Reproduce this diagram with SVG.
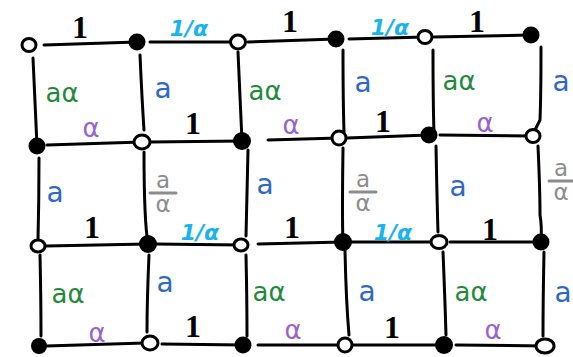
<svg xmlns="http://www.w3.org/2000/svg" width="573" height="357" viewBox="0 0 573 357">
<style>
.e{fill:none;stroke:#000;stroke-width:3;stroke-linecap:round;stroke-linejoin:round}
.f{fill:#000}
.o{fill:#fff;stroke:#000;stroke-width:3}
text{font-family:"DejaVu Sans","Liberation Sans",sans-serif;text-anchor:middle}
.one{font-family:"Liberation Serif",serif;font-weight:bold;font-size:32px;fill:#000}
.inv{font-size:22px;font-style:italic;font-weight:bold;fill:#19b4ef}
.bl{font-size:28px;fill:#2f68c8}
.gr{font-size:26px;fill:#1f8a3c}
.pu{font-size:26px;fill:#9a62cc}
.gy{font-size:23px;fill:#8c8c8c}
.bar{stroke:#8c8c8c;stroke-width:3;stroke-linecap:round}
</style>
<rect width="573" height="357" fill="#fff"/>
<g id="connectors">
<path class="e" d="M44,45 L137,42"/>
<path class="e" d="M150,42 L238,42"/>
<path class="e" d="M248,42 L336,39"/>
<path class="e" d="M349,39 L425,37"/>
<path class="e" d="M434,37 L531,35"/>
<path class="e" d="M47,145 L142,142"/>
<path class="e" d="M150,142 L242,141"/>
<path class="e" d="M268,140 L339,138"/>
<path class="e" d="M347,138 L429,135"/>
<path class="e" d="M440,135 L533,136"/>
<path class="e" d="M46,246 L148,244"/>
<path class="e" d="M155,244 L241,245"/>
<path class="e" d="M258,244 L343,242"/>
<path class="e" d="M350,242 L439,242"/>
<path class="e" d="M450,242 L541,242"/>
<path class="e" d="M46,346 L145,343"/>
<path class="e" d="M162,344 L243,345"/>
<path class="e" d="M258,345 L345,345"/>
<path class="e" d="M352,345 L444,345"/>
<path class="e" d="M456,345 L545,346"/>
<path class="e" d="M33,58 Q35,100 37,146"/>
<path class="e" d="M140,55 Q142,100 144,130"/>
<path class="e" d="M238,52 Q240,100 242,141"/>
<path class="e" d="M343,50 Q343,100 344,132"/>
<path class="e" d="M433,50 Q433,100 434,134"/>
<path class="e" d="M541,47 Q541,95 540,120 Q537,126 535,130"/>
<path class="e" d="M39,158 Q39,200 38,240"/>
<path class="e" d="M144,152 Q144,220 148,244"/>
<path class="e" d="M248,150 Q247,200 246,236"/>
<path class="e" d="M343,148 Q342,220 343,242"/>
<path class="e" d="M436,146 Q437,200 438,232"/>
<path class="e" d="M538,146 Q540,190 540,215 Q542,226 541,242"/>
<path class="e" d="M40,255 Q41,300 41,336"/>
<path class="e" d="M149,255 Q147,300 147,332"/>
<path class="e" d="M246,255 Q247,300 247,336"/>
<path class="e" d="M345,250 Q346,300 349,335"/>
<path class="e" d="M443,252 Q445,300 446,335"/>
<path class="e" d="M544,252 Q543,300 543,336"/>
</g>
<g id="labels">
<text class="one" x="80" y="38">1</text>
<text class="inv" x="189" y="36">1/α</text>
<text class="one" x="290" y="32">1</text>
<text class="inv" x="390" y="35">1/α</text>
<text class="one" x="477" y="32">1</text>
<text class="pu" x="91" y="137">α</text>
<text class="one" x="193" y="134">1</text>
<text class="pu" x="291" y="134">α</text>
<text class="one" x="383" y="132">1</text>
<text class="pu" x="485" y="132">α</text>
<text class="one" x="92" y="238">1</text>
<text class="inv" x="200" y="240">1/α</text>
<text class="one" x="292" y="238">1</text>
<text class="inv" x="393" y="240">1/α</text>
<text class="one" x="490" y="240">1</text>
<text class="pu" x="97" y="342">α</text>
<text class="one" x="193" y="337">1</text>
<text class="pu" x="293" y="339">α</text>
<text class="one" x="392" y="338">1</text>
<text class="pu" x="493" y="339">α</text>
<text class="gr" x="62" y="102">aα</text>
<text class="bl" x="163" y="98">a</text>
<text class="gr" x="265" y="100">aα</text>
<text class="bl" x="363" y="92">a</text>
<text class="gr" x="459" y="90">aα</text>
<text class="bl" x="561" y="91">a</text>
<text class="bl" x="55" y="202">a</text>
<text class="gy" x="163" y="188">a</text>
<line class="bar" x1="150" y1="193" x2="176" y2="193"/>
<text class="gy" x="163" y="212">α</text>
<text class="bl" x="265" y="194">a</text>
<text class="gy" x="363" y="187">a</text>
<line class="bar" x1="350" y1="192" x2="376" y2="192"/>
<text class="gy" x="363" y="211">α</text>
<text class="bl" x="458" y="196">a</text>
<text class="gy" x="561" y="176">a</text>
<line class="bar" x1="549" y1="181" x2="573" y2="181"/>
<text class="gy" x="561" y="200">α</text>
<text class="gr" x="68" y="303">aα</text>
<text class="bl" x="165" y="292">a</text>
<text class="gr" x="269" y="301">aα</text>
<text class="bl" x="367" y="301">a</text>
<text class="gr" x="471" y="301">aα</text>
<text class="bl" x="563" y="302">a</text>
</g>
<g id="n11"><ellipse class="o" cx="29" cy="45" rx="7" ry="6.5"/></g>
<g id="n12"><circle class="f" cx="137" cy="42" r="8.5"/></g>
<g id="n13"><ellipse class="o" cx="238" cy="42" rx="7.5" ry="7"/></g>
<g id="n14"><circle class="f" cx="336" cy="39" r="8.5"/></g>
<g id="n15"><ellipse class="o" cx="425" cy="37" rx="7" ry="6.5"/></g>
<g id="n16"><circle class="f" cx="531" cy="35" r="8.5"/></g>
<g id="n21"><circle class="f" cx="37" cy="146" r="8.5"/></g>
<g id="n22"><ellipse class="o" cx="142" cy="142" rx="8" ry="7"/></g>
<g id="n23"><circle class="f" cx="242" cy="141" r="9"/></g>
<g id="n24"><ellipse class="o" cx="339" cy="138" rx="7" ry="7"/></g>
<g id="n25"><circle class="f" cx="429" cy="135" r="8.5"/></g>
<g id="n26"><ellipse class="o" cx="533" cy="136" rx="7" ry="6.5"/></g>
<g id="n31"><ellipse class="o" cx="38" cy="246" rx="7" ry="6"/></g>
<g id="n32"><circle class="f" cx="148" cy="244" r="9"/></g>
<g id="n33"><ellipse class="o" cx="241" cy="245" rx="7" ry="6"/></g>
<g id="n34"><circle class="f" cx="343" cy="242" r="9"/></g>
<g id="n35"><ellipse class="o" cx="439" cy="242" rx="8" ry="6.5"/></g>
<g id="n36"><circle class="f" cx="541" cy="242" r="8.5"/></g>
<g id="n41"><circle class="f" cx="39" cy="346" r="8"/></g>
<g id="n42"><ellipse class="o" cx="150" cy="343" rx="8" ry="7"/></g>
<g id="n43"><circle class="f" cx="243" cy="345" r="8.5"/></g>
<g id="n44"><ellipse class="o" cx="345" cy="345" rx="7" ry="7"/></g>
<g id="n45"><circle class="f" cx="444" cy="345" r="9"/></g>
<g id="n46"><ellipse class="o" cx="545" cy="346" rx="9" ry="7"/></g>
</svg>
